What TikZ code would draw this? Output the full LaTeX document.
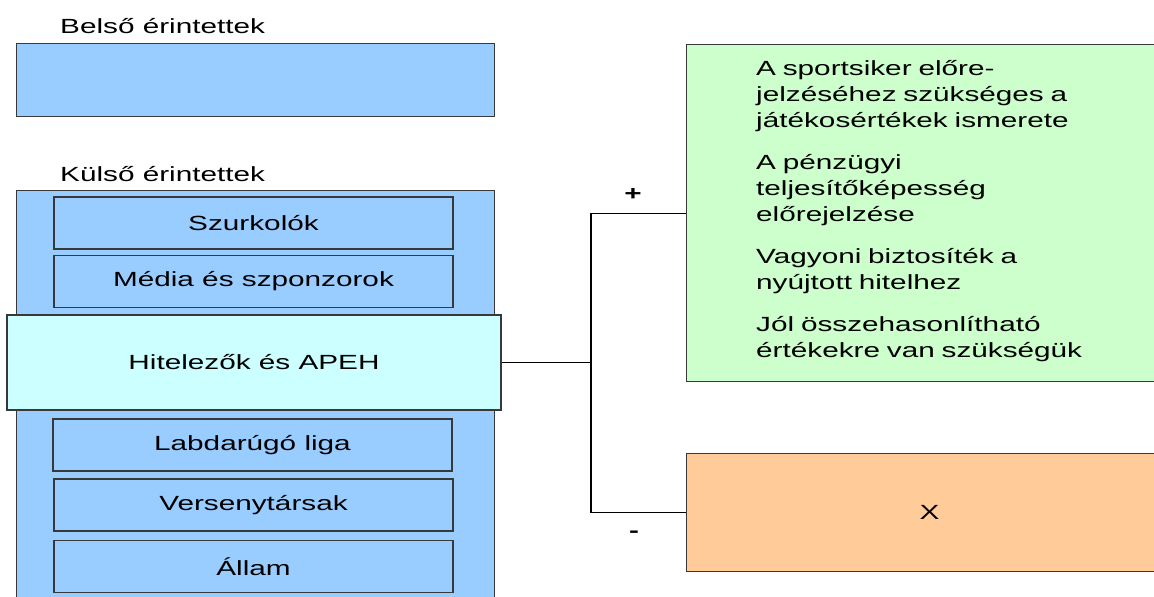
\documentclass[tikz,border=0pt]{standalone}
\usepackage{fontspec}
\setmainfont{Liberation Sans}[FakeStretch=1.45]

\definecolor{outerblue}{HTML}{99CCFF}
\definecolor{lightcyan}{HTML}{CCFFFF}
\definecolor{progreen}{HTML}{CCFFCC}
\definecolor{conorange}{HTML}{FFCC99}
\definecolor{boxline}{HTML}{383838}

\begin{document}
\begin{tikzpicture}[x=1pt, y=-1pt,
    every node/.style={font=\fontsize{20.5}{26}\selectfont, inner sep=0pt},
    group/.style={draw=boxline, line width=1.3pt, fill=outerblue, anchor=north west},
    item/.style={draw=boxline, line width=1.3pt, fill=outerblue,
      minimum width=399pt, minimum height=52pt},
    title/.style={anchor=base west},
    link/.style={draw=black, line width=1.1pt}]

  \clip (0,0) rectangle (1154,597);

  \node[title] (belsoLabel) at (60,33) {Belső érintettek};
  \node[group, minimum width=478pt, minimum height=73pt] (belso) at (16,43) {};

  \node[title] (kulsoLabel) at (60,181) {Külső érintettek};
  \node[group, minimum width=478pt, minimum height=430pt] (kulso) at (16,190) {};

  \node[item] (szurk) at (253.5,223) {Szurkolók};
  \node[item] (media) at (253.5,281.5) {Média és szponzorok};
  \node[item, fill=lightcyan, minimum width=494pt, minimum height=95pt] (hit)
    at (254,362.5) {Hitelezők és APEH};
  \node[item] (liga) at (252.5,445) {Labdarúgó liga};
  \node[item] (verseny) at (253.5,505) {Versenytársak};
  \node[item] (allam) at (253.5,566.5) {Állam};

  \node[group, fill=progreen, minimum width=486pt, minimum height=337pt] (pro)
    at (686,44) {};
  \node[anchor=base west, text width=390pt, align=left] (proText) at (756,75)
    {A sportsiker előre-\\
     jelzéséhez szükséges a\\
     játékosértékek ismerete\\[16pt]
     A pénzügyi\\
     teljesítőképesség\\
     előrejelzése\\[16pt]
     Vagyoni biztosíték a\\
     nyújtott hitelhez\\[16pt]
     Jól összehasonlítható\\
     értékekre van szükségük};

  \node[group, fill=conorange, minimum width=486pt, minimum height=118pt] (con)
    at (686,453) {X};

  \coordinate (split) at (591,362.5);
  \draw[link] (hit.east) -- (split);
  \draw[link] (pro.west) -| (split) |- (con.west);

  \node (plus) at (633,194) {\textbf{+}};
  \node (minus) at (634,534) {\textbf{-}};

\end{tikzpicture}
\end{document}
